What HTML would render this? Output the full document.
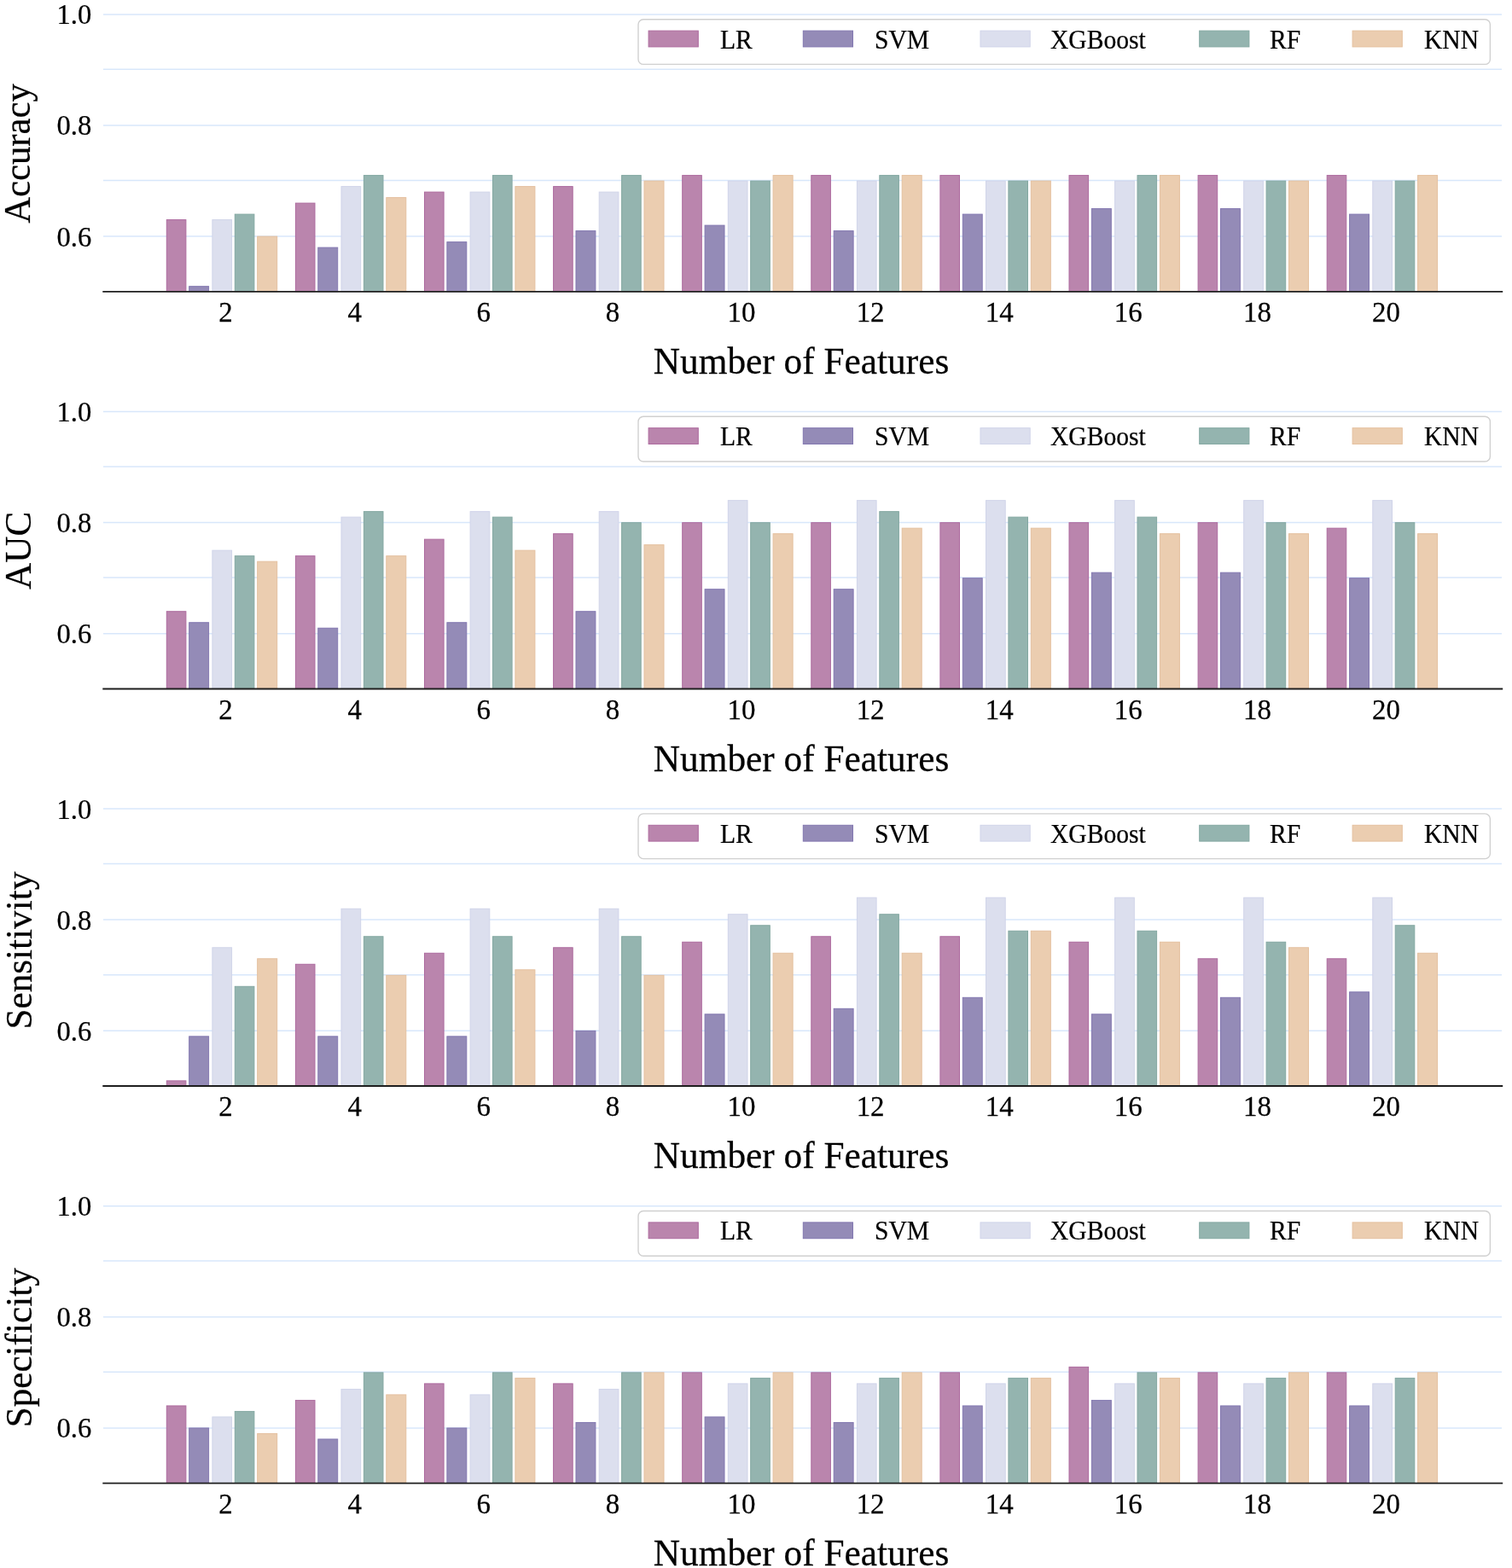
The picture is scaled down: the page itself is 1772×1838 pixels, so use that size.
<!DOCTYPE html><html><head><meta charset="utf-8"><title>Feature selection performance</title><style>html,body{margin:0;padding:0;background:#fff;}svg{display:block;}text{font-family:"Liberation Serif","Times New Roman",serif;fill:#000;stroke:#000;stroke-width:0.25px;}</style></head><body>
<svg width="1772" height="1838" viewBox="0 0 1772 1838">
<rect width="1772" height="1838" fill="#fff"/>
<g>
<line x1="121" y1="277.1" x2="1760" y2="277.1" stroke="#d8e7fb" stroke-width="1.5"/>
<line x1="121" y1="211.5" x2="1760" y2="211.5" stroke="#d8e7fb" stroke-width="1.5"/>
<line x1="121" y1="146.9" x2="1760" y2="146.9" stroke="#d8e7fb" stroke-width="1.5"/>
<line x1="121" y1="81.3" x2="1760" y2="81.3" stroke="#d8e7fb" stroke-width="1.5"/>
<line x1="121" y1="16.9" x2="1760" y2="16.9" stroke="#d8e7fb" stroke-width="1.5"/>
<rect x="195.3" y="257.63" width="22.6" height="84.06" fill="#ba85ad" stroke="#ad6b9f" stroke-width="1"/>
<rect x="221.7" y="335.69" width="22.9" height="6" fill="#948bb7" stroke="#8277b0" stroke-width="1"/>
<rect x="248.9" y="257.63" width="22.7" height="84.06" fill="#dcdfee" stroke="#d0d4e9" stroke-width="1"/>
<rect x="275.3" y="251.13" width="22.6" height="90.57" fill="#94b4af" stroke="#84a8a2" stroke-width="1"/>
<rect x="301.7" y="277.15" width="23" height="64.55" fill="#ebcdb0" stroke="#e4c09f" stroke-width="1"/>
<rect x="346.4" y="238.12" width="22.6" height="103.58" fill="#ba85ad" stroke="#ad6b9f" stroke-width="1"/>
<rect x="372.8" y="290.16" width="22.9" height="51.54" fill="#948bb7" stroke="#8277b0" stroke-width="1"/>
<rect x="400" y="218.61" width="22.7" height="123.09" fill="#dcdfee" stroke="#d0d4e9" stroke-width="1"/>
<rect x="426.4" y="205.59" width="22.6" height="136.1" fill="#94b4af" stroke="#84a8a2" stroke-width="1"/>
<rect x="452.8" y="231.61" width="23" height="110.09" fill="#ebcdb0" stroke="#e4c09f" stroke-width="1"/>
<rect x="497.5" y="225.11" width="22.6" height="116.59" fill="#ba85ad" stroke="#ad6b9f" stroke-width="1"/>
<rect x="523.9" y="283.66" width="22.9" height="58.04" fill="#948bb7" stroke="#8277b0" stroke-width="1"/>
<rect x="551.1" y="225.11" width="22.7" height="116.59" fill="#dcdfee" stroke="#d0d4e9" stroke-width="1"/>
<rect x="577.5" y="205.59" width="22.6" height="136.1" fill="#94b4af" stroke="#84a8a2" stroke-width="1"/>
<rect x="603.9" y="218.61" width="23" height="123.09" fill="#ebcdb0" stroke="#e4c09f" stroke-width="1"/>
<rect x="648.6" y="218.61" width="22.6" height="123.09" fill="#ba85ad" stroke="#ad6b9f" stroke-width="1"/>
<rect x="675" y="270.64" width="22.9" height="71.06" fill="#948bb7" stroke="#8277b0" stroke-width="1"/>
<rect x="702.2" y="225.11" width="22.7" height="116.59" fill="#dcdfee" stroke="#d0d4e9" stroke-width="1"/>
<rect x="728.6" y="205.59" width="22.6" height="136.1" fill="#94b4af" stroke="#84a8a2" stroke-width="1"/>
<rect x="755" y="212.1" width="23" height="129.6" fill="#ebcdb0" stroke="#e4c09f" stroke-width="1"/>
<rect x="799.7" y="205.59" width="22.6" height="136.1" fill="#ba85ad" stroke="#ad6b9f" stroke-width="1"/>
<rect x="826.1" y="264.14" width="22.9" height="77.56" fill="#948bb7" stroke="#8277b0" stroke-width="1"/>
<rect x="853.3" y="212.1" width="22.7" height="129.6" fill="#dcdfee" stroke="#d0d4e9" stroke-width="1"/>
<rect x="879.7" y="212.1" width="22.6" height="129.6" fill="#94b4af" stroke="#84a8a2" stroke-width="1"/>
<rect x="906.1" y="205.59" width="23" height="136.1" fill="#ebcdb0" stroke="#e4c09f" stroke-width="1"/>
<rect x="950.8" y="205.59" width="22.6" height="136.1" fill="#ba85ad" stroke="#ad6b9f" stroke-width="1"/>
<rect x="977.2" y="270.64" width="22.9" height="71.06" fill="#948bb7" stroke="#8277b0" stroke-width="1"/>
<rect x="1004.4" y="212.1" width="22.7" height="129.6" fill="#dcdfee" stroke="#d0d4e9" stroke-width="1"/>
<rect x="1030.8" y="205.59" width="22.6" height="136.1" fill="#94b4af" stroke="#84a8a2" stroke-width="1"/>
<rect x="1057.2" y="205.59" width="23" height="136.1" fill="#ebcdb0" stroke="#e4c09f" stroke-width="1"/>
<rect x="1101.9" y="205.59" width="22.6" height="136.1" fill="#ba85ad" stroke="#ad6b9f" stroke-width="1"/>
<rect x="1128.3" y="251.13" width="22.9" height="90.57" fill="#948bb7" stroke="#8277b0" stroke-width="1"/>
<rect x="1155.5" y="212.1" width="22.7" height="129.6" fill="#dcdfee" stroke="#d0d4e9" stroke-width="1"/>
<rect x="1181.9" y="212.1" width="22.6" height="129.6" fill="#94b4af" stroke="#84a8a2" stroke-width="1"/>
<rect x="1208.3" y="212.1" width="23" height="129.6" fill="#ebcdb0" stroke="#e4c09f" stroke-width="1"/>
<rect x="1253" y="205.59" width="22.6" height="136.1" fill="#ba85ad" stroke="#ad6b9f" stroke-width="1"/>
<rect x="1279.4" y="244.62" width="22.9" height="97.08" fill="#948bb7" stroke="#8277b0" stroke-width="1"/>
<rect x="1306.6" y="212.1" width="22.7" height="129.6" fill="#dcdfee" stroke="#d0d4e9" stroke-width="1"/>
<rect x="1333" y="205.59" width="22.6" height="136.1" fill="#94b4af" stroke="#84a8a2" stroke-width="1"/>
<rect x="1359.4" y="205.59" width="23" height="136.1" fill="#ebcdb0" stroke="#e4c09f" stroke-width="1"/>
<rect x="1404.1" y="205.59" width="22.6" height="136.1" fill="#ba85ad" stroke="#ad6b9f" stroke-width="1"/>
<rect x="1430.5" y="244.62" width="22.9" height="97.08" fill="#948bb7" stroke="#8277b0" stroke-width="1"/>
<rect x="1457.7" y="212.1" width="22.7" height="129.6" fill="#dcdfee" stroke="#d0d4e9" stroke-width="1"/>
<rect x="1484.1" y="212.1" width="22.6" height="129.6" fill="#94b4af" stroke="#84a8a2" stroke-width="1"/>
<rect x="1510.5" y="212.1" width="23" height="129.6" fill="#ebcdb0" stroke="#e4c09f" stroke-width="1"/>
<rect x="1555.2" y="205.59" width="22.6" height="136.1" fill="#ba85ad" stroke="#ad6b9f" stroke-width="1"/>
<rect x="1581.6" y="251.13" width="22.9" height="90.57" fill="#948bb7" stroke="#8277b0" stroke-width="1"/>
<rect x="1608.8" y="212.1" width="22.7" height="129.6" fill="#dcdfee" stroke="#d0d4e9" stroke-width="1"/>
<rect x="1635.2" y="212.1" width="22.6" height="129.6" fill="#94b4af" stroke="#84a8a2" stroke-width="1"/>
<rect x="1661.6" y="205.59" width="23" height="136.1" fill="#ebcdb0" stroke="#e4c09f" stroke-width="1"/>
<line x1="120.3" y1="341.85" x2="1761.2" y2="341.85" stroke="#1e1e1e" stroke-width="1.9"/>
<rect x="748" y="22.7" width="998.4" height="52.7" rx="6" fill="#fff" fill-opacity="0.8" stroke="#d0d0d0" stroke-width="1.4"/>
<rect x="760.1" y="36.1" width="58.2" height="18.8" fill="#ba85ad" stroke="#ad6b9f" stroke-width="1"/>
<text transform="translate(844,56.5) scale(0.94,1)" font-size="31.5">LR</text>
<rect x="941.3" y="36.1" width="58.2" height="18.8" fill="#948bb7" stroke="#8277b0" stroke-width="1"/>
<text transform="translate(1025,56.5) scale(0.94,1)" font-size="31.5">SVM</text>
<rect x="1149" y="36.1" width="58.2" height="18.8" fill="#dcdfee" stroke="#d0d4e9" stroke-width="1"/>
<text transform="translate(1231,56.5) scale(0.94,1)" font-size="31.5">XGBoost</text>
<rect x="1405.7" y="36.1" width="58.2" height="18.8" fill="#94b4af" stroke="#84a8a2" stroke-width="1"/>
<text transform="translate(1488,56.5) scale(0.94,1)" font-size="31.5">RF</text>
<rect x="1585.1" y="36.1" width="58.2" height="18.8" fill="#ebcdb0" stroke="#e4c09f" stroke-width="1"/>
<text transform="translate(1669,56.5) scale(0.94,1)" font-size="31.5">KNN</text>
<text transform="translate(107.3,288.55) scale(0.94,1)" font-size="34.7" text-anchor="end">0.6</text>
<text transform="translate(107.3,158.45) scale(0.94,1)" font-size="34.7" text-anchor="end">0.8</text>
<text transform="translate(107.3,28.35) scale(0.94,1)" font-size="34.7" text-anchor="end">1.0</text>
<text transform="translate(264.6,377.2) scale(0.95,1)" font-size="34.7" text-anchor="middle">2</text>
<text transform="translate(415.7,377.2) scale(0.95,1)" font-size="34.7" text-anchor="middle">4</text>
<text transform="translate(566.8,377.2) scale(0.95,1)" font-size="34.7" text-anchor="middle">6</text>
<text transform="translate(717.9,377.2) scale(0.95,1)" font-size="34.7" text-anchor="middle">8</text>
<text transform="translate(869,377.2) scale(0.95,1)" font-size="34.7" text-anchor="middle">10</text>
<text transform="translate(1020.1,377.2) scale(0.95,1)" font-size="34.7" text-anchor="middle">12</text>
<text transform="translate(1171.2,377.2) scale(0.95,1)" font-size="34.7" text-anchor="middle">14</text>
<text transform="translate(1322.3,377.2) scale(0.95,1)" font-size="34.7" text-anchor="middle">16</text>
<text transform="translate(1473.4,377.2) scale(0.95,1)" font-size="34.7" text-anchor="middle">18</text>
<text transform="translate(1624.5,377.2) scale(0.95,1)" font-size="34.7" text-anchor="middle">20</text>
<text transform="translate(939,438) scale(0.985,1)" font-size="44" text-anchor="middle">Number of Features</text>
<text transform="translate(34.7,180) rotate(-90) scale(0.95,1)" font-size="45" text-anchor="middle">Accuracy</text>
</g>
<g>
<line x1="121" y1="742.7" x2="1760" y2="742.7" stroke="#d8e7fb" stroke-width="1.5"/>
<line x1="121" y1="677.1" x2="1760" y2="677.1" stroke="#d8e7fb" stroke-width="1.5"/>
<line x1="121" y1="612.5" x2="1760" y2="612.5" stroke="#d8e7fb" stroke-width="1.5"/>
<line x1="121" y1="546.9" x2="1760" y2="546.9" stroke="#d8e7fb" stroke-width="1.5"/>
<line x1="121" y1="482.5" x2="1760" y2="482.5" stroke="#d8e7fb" stroke-width="1.5"/>
<rect x="195.3" y="716.73" width="22.6" height="90.57" fill="#ba85ad" stroke="#ad6b9f" stroke-width="1"/>
<rect x="221.7" y="729.74" width="22.9" height="77.56" fill="#948bb7" stroke="#8277b0" stroke-width="1"/>
<rect x="248.9" y="645.17" width="22.7" height="162.12" fill="#dcdfee" stroke="#d0d4e9" stroke-width="1"/>
<rect x="275.3" y="651.68" width="22.6" height="155.62" fill="#94b4af" stroke="#84a8a2" stroke-width="1"/>
<rect x="301.7" y="658.19" width="23" height="149.11" fill="#ebcdb0" stroke="#e4c09f" stroke-width="1"/>
<rect x="346.4" y="651.68" width="22.6" height="155.62" fill="#ba85ad" stroke="#ad6b9f" stroke-width="1"/>
<rect x="372.8" y="736.25" width="22.9" height="71.05" fill="#948bb7" stroke="#8277b0" stroke-width="1"/>
<rect x="400" y="606.14" width="22.7" height="201.15" fill="#dcdfee" stroke="#d0d4e9" stroke-width="1"/>
<rect x="426.4" y="599.64" width="22.6" height="207.66" fill="#94b4af" stroke="#84a8a2" stroke-width="1"/>
<rect x="452.8" y="651.68" width="23" height="155.62" fill="#ebcdb0" stroke="#e4c09f" stroke-width="1"/>
<rect x="497.5" y="632.16" width="22.6" height="175.13" fill="#ba85ad" stroke="#ad6b9f" stroke-width="1"/>
<rect x="523.9" y="729.74" width="22.9" height="77.56" fill="#948bb7" stroke="#8277b0" stroke-width="1"/>
<rect x="551.1" y="599.64" width="22.7" height="207.66" fill="#dcdfee" stroke="#d0d4e9" stroke-width="1"/>
<rect x="577.5" y="606.14" width="22.6" height="201.15" fill="#94b4af" stroke="#84a8a2" stroke-width="1"/>
<rect x="603.9" y="645.17" width="23" height="162.12" fill="#ebcdb0" stroke="#e4c09f" stroke-width="1"/>
<rect x="648.6" y="625.66" width="22.6" height="181.64" fill="#ba85ad" stroke="#ad6b9f" stroke-width="1"/>
<rect x="675" y="716.73" width="22.9" height="90.57" fill="#948bb7" stroke="#8277b0" stroke-width="1"/>
<rect x="702.2" y="599.64" width="22.7" height="207.66" fill="#dcdfee" stroke="#d0d4e9" stroke-width="1"/>
<rect x="728.6" y="612.65" width="22.6" height="194.65" fill="#94b4af" stroke="#84a8a2" stroke-width="1"/>
<rect x="755" y="638.67" width="23" height="168.63" fill="#ebcdb0" stroke="#e4c09f" stroke-width="1"/>
<rect x="799.7" y="612.65" width="22.6" height="194.65" fill="#ba85ad" stroke="#ad6b9f" stroke-width="1"/>
<rect x="826.1" y="690.71" width="22.9" height="116.59" fill="#948bb7" stroke="#8277b0" stroke-width="1"/>
<rect x="853.3" y="586.63" width="22.7" height="220.67" fill="#dcdfee" stroke="#d0d4e9" stroke-width="1"/>
<rect x="879.7" y="612.65" width="22.6" height="194.65" fill="#94b4af" stroke="#84a8a2" stroke-width="1"/>
<rect x="906.1" y="625.66" width="23" height="181.64" fill="#ebcdb0" stroke="#e4c09f" stroke-width="1"/>
<rect x="950.8" y="612.65" width="22.6" height="194.65" fill="#ba85ad" stroke="#ad6b9f" stroke-width="1"/>
<rect x="977.2" y="690.71" width="22.9" height="116.59" fill="#948bb7" stroke="#8277b0" stroke-width="1"/>
<rect x="1004.4" y="586.63" width="22.7" height="220.67" fill="#dcdfee" stroke="#d0d4e9" stroke-width="1"/>
<rect x="1030.8" y="599.64" width="22.6" height="207.66" fill="#94b4af" stroke="#84a8a2" stroke-width="1"/>
<rect x="1057.2" y="619.15" width="23" height="188.14" fill="#ebcdb0" stroke="#e4c09f" stroke-width="1"/>
<rect x="1101.9" y="612.65" width="22.6" height="194.65" fill="#ba85ad" stroke="#ad6b9f" stroke-width="1"/>
<rect x="1128.3" y="677.7" width="22.9" height="129.6" fill="#948bb7" stroke="#8277b0" stroke-width="1"/>
<rect x="1155.5" y="586.63" width="22.7" height="220.67" fill="#dcdfee" stroke="#d0d4e9" stroke-width="1"/>
<rect x="1181.9" y="606.14" width="22.6" height="201.15" fill="#94b4af" stroke="#84a8a2" stroke-width="1"/>
<rect x="1208.3" y="619.15" width="23" height="188.14" fill="#ebcdb0" stroke="#e4c09f" stroke-width="1"/>
<rect x="1253" y="612.65" width="22.6" height="194.65" fill="#ba85ad" stroke="#ad6b9f" stroke-width="1"/>
<rect x="1279.4" y="671.2" width="22.9" height="136.1" fill="#948bb7" stroke="#8277b0" stroke-width="1"/>
<rect x="1306.6" y="586.63" width="22.7" height="220.67" fill="#dcdfee" stroke="#d0d4e9" stroke-width="1"/>
<rect x="1333" y="606.14" width="22.6" height="201.15" fill="#94b4af" stroke="#84a8a2" stroke-width="1"/>
<rect x="1359.4" y="625.66" width="23" height="181.64" fill="#ebcdb0" stroke="#e4c09f" stroke-width="1"/>
<rect x="1404.1" y="612.65" width="22.6" height="194.65" fill="#ba85ad" stroke="#ad6b9f" stroke-width="1"/>
<rect x="1430.5" y="671.2" width="22.9" height="136.1" fill="#948bb7" stroke="#8277b0" stroke-width="1"/>
<rect x="1457.7" y="586.63" width="22.7" height="220.67" fill="#dcdfee" stroke="#d0d4e9" stroke-width="1"/>
<rect x="1484.1" y="612.65" width="22.6" height="194.65" fill="#94b4af" stroke="#84a8a2" stroke-width="1"/>
<rect x="1510.5" y="625.66" width="23" height="181.64" fill="#ebcdb0" stroke="#e4c09f" stroke-width="1"/>
<rect x="1555.2" y="619.15" width="22.6" height="188.14" fill="#ba85ad" stroke="#ad6b9f" stroke-width="1"/>
<rect x="1581.6" y="677.7" width="22.9" height="129.6" fill="#948bb7" stroke="#8277b0" stroke-width="1"/>
<rect x="1608.8" y="586.63" width="22.7" height="220.67" fill="#dcdfee" stroke="#d0d4e9" stroke-width="1"/>
<rect x="1635.2" y="612.65" width="22.6" height="194.65" fill="#94b4af" stroke="#84a8a2" stroke-width="1"/>
<rect x="1661.6" y="625.66" width="23" height="181.64" fill="#ebcdb0" stroke="#e4c09f" stroke-width="1"/>
<line x1="120.3" y1="807.45" x2="1761.2" y2="807.45" stroke="#1e1e1e" stroke-width="1.9"/>
<rect x="748" y="488.3" width="998.4" height="52.7" rx="6" fill="#fff" fill-opacity="0.8" stroke="#d0d0d0" stroke-width="1.4"/>
<rect x="760.1" y="501.7" width="58.2" height="18.8" fill="#ba85ad" stroke="#ad6b9f" stroke-width="1"/>
<text transform="translate(844,522.1) scale(0.94,1)" font-size="31.5">LR</text>
<rect x="941.3" y="501.7" width="58.2" height="18.8" fill="#948bb7" stroke="#8277b0" stroke-width="1"/>
<text transform="translate(1025,522.1) scale(0.94,1)" font-size="31.5">SVM</text>
<rect x="1149" y="501.7" width="58.2" height="18.8" fill="#dcdfee" stroke="#d0d4e9" stroke-width="1"/>
<text transform="translate(1231,522.1) scale(0.94,1)" font-size="31.5">XGBoost</text>
<rect x="1405.7" y="501.7" width="58.2" height="18.8" fill="#94b4af" stroke="#84a8a2" stroke-width="1"/>
<text transform="translate(1488,522.1) scale(0.94,1)" font-size="31.5">RF</text>
<rect x="1585.1" y="501.7" width="58.2" height="18.8" fill="#ebcdb0" stroke="#e4c09f" stroke-width="1"/>
<text transform="translate(1669,522.1) scale(0.94,1)" font-size="31.5">KNN</text>
<text transform="translate(107.3,754.15) scale(0.94,1)" font-size="34.7" text-anchor="end">0.6</text>
<text transform="translate(107.3,624.05) scale(0.94,1)" font-size="34.7" text-anchor="end">0.8</text>
<text transform="translate(107.3,493.95) scale(0.94,1)" font-size="34.7" text-anchor="end">1.0</text>
<text transform="translate(264.6,842.8) scale(0.95,1)" font-size="34.7" text-anchor="middle">2</text>
<text transform="translate(415.7,842.8) scale(0.95,1)" font-size="34.7" text-anchor="middle">4</text>
<text transform="translate(566.8,842.8) scale(0.95,1)" font-size="34.7" text-anchor="middle">6</text>
<text transform="translate(717.9,842.8) scale(0.95,1)" font-size="34.7" text-anchor="middle">8</text>
<text transform="translate(869,842.8) scale(0.95,1)" font-size="34.7" text-anchor="middle">10</text>
<text transform="translate(1020.1,842.8) scale(0.95,1)" font-size="34.7" text-anchor="middle">12</text>
<text transform="translate(1171.2,842.8) scale(0.95,1)" font-size="34.7" text-anchor="middle">14</text>
<text transform="translate(1322.3,842.8) scale(0.95,1)" font-size="34.7" text-anchor="middle">16</text>
<text transform="translate(1473.4,842.8) scale(0.95,1)" font-size="34.7" text-anchor="middle">18</text>
<text transform="translate(1624.5,842.8) scale(0.95,1)" font-size="34.7" text-anchor="middle">20</text>
<text transform="translate(939,903.6) scale(0.985,1)" font-size="44" text-anchor="middle">Number of Features</text>
<text transform="translate(35.7,645.3) rotate(-90) scale(0.96,1)" font-size="45" text-anchor="middle">AUC</text>
</g>
<g>
<line x1="121" y1="1208.3" x2="1760" y2="1208.3" stroke="#d8e7fb" stroke-width="1.5"/>
<line x1="121" y1="1142.7" x2="1760" y2="1142.7" stroke="#d8e7fb" stroke-width="1.5"/>
<line x1="121" y1="1078.1" x2="1760" y2="1078.1" stroke="#d8e7fb" stroke-width="1.5"/>
<line x1="121" y1="1012.5" x2="1760" y2="1012.5" stroke="#d8e7fb" stroke-width="1.5"/>
<line x1="121" y1="948.1" x2="1760" y2="948.1" stroke="#d8e7fb" stroke-width="1.5"/>
<rect x="195.3" y="1266.89" width="22.6" height="6.01" fill="#ba85ad" stroke="#ad6b9f" stroke-width="1"/>
<rect x="221.7" y="1214.86" width="22.9" height="58.05" fill="#948bb7" stroke="#8277b0" stroke-width="1"/>
<rect x="248.9" y="1110.78" width="22.7" height="162.12" fill="#dcdfee" stroke="#d0d4e9" stroke-width="1"/>
<rect x="275.3" y="1156.31" width="22.6" height="116.59" fill="#94b4af" stroke="#84a8a2" stroke-width="1"/>
<rect x="301.7" y="1123.79" width="23" height="149.12" fill="#ebcdb0" stroke="#e4c09f" stroke-width="1"/>
<rect x="346.4" y="1130.29" width="22.6" height="142.61" fill="#ba85ad" stroke="#ad6b9f" stroke-width="1"/>
<rect x="372.8" y="1214.86" width="22.9" height="58.05" fill="#948bb7" stroke="#8277b0" stroke-width="1"/>
<rect x="400" y="1065.24" width="22.7" height="207.66" fill="#dcdfee" stroke="#d0d4e9" stroke-width="1"/>
<rect x="426.4" y="1097.77" width="22.6" height="175.13" fill="#94b4af" stroke="#84a8a2" stroke-width="1"/>
<rect x="452.8" y="1143.3" width="23" height="129.6" fill="#ebcdb0" stroke="#e4c09f" stroke-width="1"/>
<rect x="497.5" y="1117.28" width="22.6" height="155.62" fill="#ba85ad" stroke="#ad6b9f" stroke-width="1"/>
<rect x="523.9" y="1214.86" width="22.9" height="58.05" fill="#948bb7" stroke="#8277b0" stroke-width="1"/>
<rect x="551.1" y="1065.24" width="22.7" height="207.66" fill="#dcdfee" stroke="#d0d4e9" stroke-width="1"/>
<rect x="577.5" y="1097.77" width="22.6" height="175.13" fill="#94b4af" stroke="#84a8a2" stroke-width="1"/>
<rect x="603.9" y="1136.8" width="23" height="136.11" fill="#ebcdb0" stroke="#e4c09f" stroke-width="1"/>
<rect x="648.6" y="1110.78" width="22.6" height="162.12" fill="#ba85ad" stroke="#ad6b9f" stroke-width="1"/>
<rect x="675" y="1208.35" width="22.9" height="64.55" fill="#948bb7" stroke="#8277b0" stroke-width="1"/>
<rect x="702.2" y="1065.24" width="22.7" height="207.66" fill="#dcdfee" stroke="#d0d4e9" stroke-width="1"/>
<rect x="728.6" y="1097.77" width="22.6" height="175.13" fill="#94b4af" stroke="#84a8a2" stroke-width="1"/>
<rect x="755" y="1143.3" width="23" height="129.6" fill="#ebcdb0" stroke="#e4c09f" stroke-width="1"/>
<rect x="799.7" y="1104.27" width="22.6" height="168.63" fill="#ba85ad" stroke="#ad6b9f" stroke-width="1"/>
<rect x="826.1" y="1188.84" width="22.9" height="84.07" fill="#948bb7" stroke="#8277b0" stroke-width="1"/>
<rect x="853.3" y="1071.74" width="22.7" height="201.16" fill="#dcdfee" stroke="#d0d4e9" stroke-width="1"/>
<rect x="879.7" y="1084.76" width="22.6" height="188.14" fill="#94b4af" stroke="#84a8a2" stroke-width="1"/>
<rect x="906.1" y="1117.28" width="23" height="155.62" fill="#ebcdb0" stroke="#e4c09f" stroke-width="1"/>
<rect x="950.8" y="1097.77" width="22.6" height="175.13" fill="#ba85ad" stroke="#ad6b9f" stroke-width="1"/>
<rect x="977.2" y="1182.33" width="22.9" height="90.57" fill="#948bb7" stroke="#8277b0" stroke-width="1"/>
<rect x="1004.4" y="1052.23" width="22.7" height="220.67" fill="#dcdfee" stroke="#d0d4e9" stroke-width="1"/>
<rect x="1030.8" y="1071.74" width="22.6" height="201.16" fill="#94b4af" stroke="#84a8a2" stroke-width="1"/>
<rect x="1057.2" y="1117.28" width="23" height="155.62" fill="#ebcdb0" stroke="#e4c09f" stroke-width="1"/>
<rect x="1101.9" y="1097.77" width="22.6" height="175.13" fill="#ba85ad" stroke="#ad6b9f" stroke-width="1"/>
<rect x="1128.3" y="1169.32" width="22.9" height="103.58" fill="#948bb7" stroke="#8277b0" stroke-width="1"/>
<rect x="1155.5" y="1052.23" width="22.7" height="220.67" fill="#dcdfee" stroke="#d0d4e9" stroke-width="1"/>
<rect x="1181.9" y="1091.26" width="22.6" height="181.64" fill="#94b4af" stroke="#84a8a2" stroke-width="1"/>
<rect x="1208.3" y="1091.26" width="23" height="181.64" fill="#ebcdb0" stroke="#e4c09f" stroke-width="1"/>
<rect x="1253" y="1104.27" width="22.6" height="168.63" fill="#ba85ad" stroke="#ad6b9f" stroke-width="1"/>
<rect x="1279.4" y="1188.84" width="22.9" height="84.07" fill="#948bb7" stroke="#8277b0" stroke-width="1"/>
<rect x="1306.6" y="1052.23" width="22.7" height="220.67" fill="#dcdfee" stroke="#d0d4e9" stroke-width="1"/>
<rect x="1333" y="1091.26" width="22.6" height="181.64" fill="#94b4af" stroke="#84a8a2" stroke-width="1"/>
<rect x="1359.4" y="1104.27" width="23" height="168.63" fill="#ebcdb0" stroke="#e4c09f" stroke-width="1"/>
<rect x="1404.1" y="1123.79" width="22.6" height="149.12" fill="#ba85ad" stroke="#ad6b9f" stroke-width="1"/>
<rect x="1430.5" y="1169.32" width="22.9" height="103.58" fill="#948bb7" stroke="#8277b0" stroke-width="1"/>
<rect x="1457.7" y="1052.23" width="22.7" height="220.67" fill="#dcdfee" stroke="#d0d4e9" stroke-width="1"/>
<rect x="1484.1" y="1104.27" width="22.6" height="168.63" fill="#94b4af" stroke="#84a8a2" stroke-width="1"/>
<rect x="1510.5" y="1110.78" width="23" height="162.12" fill="#ebcdb0" stroke="#e4c09f" stroke-width="1"/>
<rect x="1555.2" y="1123.79" width="22.6" height="149.12" fill="#ba85ad" stroke="#ad6b9f" stroke-width="1"/>
<rect x="1581.6" y="1162.82" width="22.9" height="110.09" fill="#948bb7" stroke="#8277b0" stroke-width="1"/>
<rect x="1608.8" y="1052.23" width="22.7" height="220.67" fill="#dcdfee" stroke="#d0d4e9" stroke-width="1"/>
<rect x="1635.2" y="1084.76" width="22.6" height="188.14" fill="#94b4af" stroke="#84a8a2" stroke-width="1"/>
<rect x="1661.6" y="1117.28" width="23" height="155.62" fill="#ebcdb0" stroke="#e4c09f" stroke-width="1"/>
<line x1="120.3" y1="1273.05" x2="1761.2" y2="1273.05" stroke="#1e1e1e" stroke-width="1.9"/>
<rect x="748" y="953.9" width="998.4" height="52.7" rx="6" fill="#fff" fill-opacity="0.8" stroke="#d0d0d0" stroke-width="1.4"/>
<rect x="760.1" y="967.3" width="58.2" height="18.8" fill="#ba85ad" stroke="#ad6b9f" stroke-width="1"/>
<text transform="translate(844,987.7) scale(0.94,1)" font-size="31.5">LR</text>
<rect x="941.3" y="967.3" width="58.2" height="18.8" fill="#948bb7" stroke="#8277b0" stroke-width="1"/>
<text transform="translate(1025,987.7) scale(0.94,1)" font-size="31.5">SVM</text>
<rect x="1149" y="967.3" width="58.2" height="18.8" fill="#dcdfee" stroke="#d0d4e9" stroke-width="1"/>
<text transform="translate(1231,987.7) scale(0.94,1)" font-size="31.5">XGBoost</text>
<rect x="1405.7" y="967.3" width="58.2" height="18.8" fill="#94b4af" stroke="#84a8a2" stroke-width="1"/>
<text transform="translate(1488,987.7) scale(0.94,1)" font-size="31.5">RF</text>
<rect x="1585.1" y="967.3" width="58.2" height="18.8" fill="#ebcdb0" stroke="#e4c09f" stroke-width="1"/>
<text transform="translate(1669,987.7) scale(0.94,1)" font-size="31.5">KNN</text>
<text transform="translate(107.3,1219.75) scale(0.94,1)" font-size="34.7" text-anchor="end">0.6</text>
<text transform="translate(107.3,1089.65) scale(0.94,1)" font-size="34.7" text-anchor="end">0.8</text>
<text transform="translate(107.3,959.55) scale(0.94,1)" font-size="34.7" text-anchor="end">1.0</text>
<text transform="translate(264.6,1308.4) scale(0.95,1)" font-size="34.7" text-anchor="middle">2</text>
<text transform="translate(415.7,1308.4) scale(0.95,1)" font-size="34.7" text-anchor="middle">4</text>
<text transform="translate(566.8,1308.4) scale(0.95,1)" font-size="34.7" text-anchor="middle">6</text>
<text transform="translate(717.9,1308.4) scale(0.95,1)" font-size="34.7" text-anchor="middle">8</text>
<text transform="translate(869,1308.4) scale(0.95,1)" font-size="34.7" text-anchor="middle">10</text>
<text transform="translate(1020.1,1308.4) scale(0.95,1)" font-size="34.7" text-anchor="middle">12</text>
<text transform="translate(1171.2,1308.4) scale(0.95,1)" font-size="34.7" text-anchor="middle">14</text>
<text transform="translate(1322.3,1308.4) scale(0.95,1)" font-size="34.7" text-anchor="middle">16</text>
<text transform="translate(1473.4,1308.4) scale(0.95,1)" font-size="34.7" text-anchor="middle">18</text>
<text transform="translate(1624.5,1308.4) scale(0.95,1)" font-size="34.7" text-anchor="middle">20</text>
<text transform="translate(939,1369.2) scale(0.985,1)" font-size="44" text-anchor="middle">Number of Features</text>
<text transform="translate(37.3,1114.1) rotate(-90) scale(0.96,1)" font-size="45" text-anchor="middle">Sensitivity</text>
</g>
<g>
<line x1="121" y1="1673.9" x2="1760" y2="1673.9" stroke="#d8e7fb" stroke-width="1.5"/>
<line x1="121" y1="1608.3" x2="1760" y2="1608.3" stroke="#d8e7fb" stroke-width="1.5"/>
<line x1="121" y1="1543.7" x2="1760" y2="1543.7" stroke="#d8e7fb" stroke-width="1.5"/>
<line x1="121" y1="1478.1" x2="1760" y2="1478.1" stroke="#d8e7fb" stroke-width="1.5"/>
<line x1="121" y1="1413.7" x2="1760" y2="1413.7" stroke="#d8e7fb" stroke-width="1.5"/>
<rect x="195.3" y="1647.93" width="22.6" height="90.57" fill="#ba85ad" stroke="#ad6b9f" stroke-width="1"/>
<rect x="221.7" y="1673.95" width="22.9" height="64.55" fill="#948bb7" stroke="#8277b0" stroke-width="1"/>
<rect x="248.9" y="1660.94" width="22.7" height="77.56" fill="#dcdfee" stroke="#d0d4e9" stroke-width="1"/>
<rect x="275.3" y="1654.44" width="22.6" height="84.07" fill="#94b4af" stroke="#84a8a2" stroke-width="1"/>
<rect x="301.7" y="1680.46" width="23" height="58.05" fill="#ebcdb0" stroke="#e4c09f" stroke-width="1"/>
<rect x="346.4" y="1641.43" width="22.6" height="97.08" fill="#ba85ad" stroke="#ad6b9f" stroke-width="1"/>
<rect x="372.8" y="1686.96" width="22.9" height="51.54" fill="#948bb7" stroke="#8277b0" stroke-width="1"/>
<rect x="400" y="1628.42" width="22.7" height="110.09" fill="#dcdfee" stroke="#d0d4e9" stroke-width="1"/>
<rect x="426.4" y="1608.9" width="22.6" height="129.6" fill="#94b4af" stroke="#84a8a2" stroke-width="1"/>
<rect x="452.8" y="1634.92" width="23" height="103.58" fill="#ebcdb0" stroke="#e4c09f" stroke-width="1"/>
<rect x="497.5" y="1621.91" width="22.6" height="116.59" fill="#ba85ad" stroke="#ad6b9f" stroke-width="1"/>
<rect x="523.9" y="1673.95" width="22.9" height="64.55" fill="#948bb7" stroke="#8277b0" stroke-width="1"/>
<rect x="551.1" y="1634.92" width="22.7" height="103.58" fill="#dcdfee" stroke="#d0d4e9" stroke-width="1"/>
<rect x="577.5" y="1608.9" width="22.6" height="129.6" fill="#94b4af" stroke="#84a8a2" stroke-width="1"/>
<rect x="603.9" y="1615.41" width="23" height="123.1" fill="#ebcdb0" stroke="#e4c09f" stroke-width="1"/>
<rect x="648.6" y="1621.91" width="22.6" height="116.59" fill="#ba85ad" stroke="#ad6b9f" stroke-width="1"/>
<rect x="675" y="1667.45" width="22.9" height="71.06" fill="#948bb7" stroke="#8277b0" stroke-width="1"/>
<rect x="702.2" y="1628.42" width="22.7" height="110.09" fill="#dcdfee" stroke="#d0d4e9" stroke-width="1"/>
<rect x="728.6" y="1608.9" width="22.6" height="129.6" fill="#94b4af" stroke="#84a8a2" stroke-width="1"/>
<rect x="755" y="1608.9" width="23" height="129.6" fill="#ebcdb0" stroke="#e4c09f" stroke-width="1"/>
<rect x="799.7" y="1608.9" width="22.6" height="129.6" fill="#ba85ad" stroke="#ad6b9f" stroke-width="1"/>
<rect x="826.1" y="1660.94" width="22.9" height="77.56" fill="#948bb7" stroke="#8277b0" stroke-width="1"/>
<rect x="853.3" y="1621.91" width="22.7" height="116.59" fill="#dcdfee" stroke="#d0d4e9" stroke-width="1"/>
<rect x="879.7" y="1615.41" width="22.6" height="123.1" fill="#94b4af" stroke="#84a8a2" stroke-width="1"/>
<rect x="906.1" y="1608.9" width="23" height="129.6" fill="#ebcdb0" stroke="#e4c09f" stroke-width="1"/>
<rect x="950.8" y="1608.9" width="22.6" height="129.6" fill="#ba85ad" stroke="#ad6b9f" stroke-width="1"/>
<rect x="977.2" y="1667.45" width="22.9" height="71.06" fill="#948bb7" stroke="#8277b0" stroke-width="1"/>
<rect x="1004.4" y="1621.91" width="22.7" height="116.59" fill="#dcdfee" stroke="#d0d4e9" stroke-width="1"/>
<rect x="1030.8" y="1615.41" width="22.6" height="123.1" fill="#94b4af" stroke="#84a8a2" stroke-width="1"/>
<rect x="1057.2" y="1608.9" width="23" height="129.6" fill="#ebcdb0" stroke="#e4c09f" stroke-width="1"/>
<rect x="1101.9" y="1608.9" width="22.6" height="129.6" fill="#ba85ad" stroke="#ad6b9f" stroke-width="1"/>
<rect x="1128.3" y="1647.93" width="22.9" height="90.57" fill="#948bb7" stroke="#8277b0" stroke-width="1"/>
<rect x="1155.5" y="1621.91" width="22.7" height="116.59" fill="#dcdfee" stroke="#d0d4e9" stroke-width="1"/>
<rect x="1181.9" y="1615.41" width="22.6" height="123.1" fill="#94b4af" stroke="#84a8a2" stroke-width="1"/>
<rect x="1208.3" y="1615.41" width="23" height="123.1" fill="#ebcdb0" stroke="#e4c09f" stroke-width="1"/>
<rect x="1253" y="1602.4" width="22.6" height="136.11" fill="#ba85ad" stroke="#ad6b9f" stroke-width="1"/>
<rect x="1279.4" y="1641.43" width="22.9" height="97.08" fill="#948bb7" stroke="#8277b0" stroke-width="1"/>
<rect x="1306.6" y="1621.91" width="22.7" height="116.59" fill="#dcdfee" stroke="#d0d4e9" stroke-width="1"/>
<rect x="1333" y="1608.9" width="22.6" height="129.6" fill="#94b4af" stroke="#84a8a2" stroke-width="1"/>
<rect x="1359.4" y="1615.41" width="23" height="123.1" fill="#ebcdb0" stroke="#e4c09f" stroke-width="1"/>
<rect x="1404.1" y="1608.9" width="22.6" height="129.6" fill="#ba85ad" stroke="#ad6b9f" stroke-width="1"/>
<rect x="1430.5" y="1647.93" width="22.9" height="90.57" fill="#948bb7" stroke="#8277b0" stroke-width="1"/>
<rect x="1457.7" y="1621.91" width="22.7" height="116.59" fill="#dcdfee" stroke="#d0d4e9" stroke-width="1"/>
<rect x="1484.1" y="1615.41" width="22.6" height="123.1" fill="#94b4af" stroke="#84a8a2" stroke-width="1"/>
<rect x="1510.5" y="1608.9" width="23" height="129.6" fill="#ebcdb0" stroke="#e4c09f" stroke-width="1"/>
<rect x="1555.2" y="1608.9" width="22.6" height="129.6" fill="#ba85ad" stroke="#ad6b9f" stroke-width="1"/>
<rect x="1581.6" y="1647.93" width="22.9" height="90.57" fill="#948bb7" stroke="#8277b0" stroke-width="1"/>
<rect x="1608.8" y="1621.91" width="22.7" height="116.59" fill="#dcdfee" stroke="#d0d4e9" stroke-width="1"/>
<rect x="1635.2" y="1615.41" width="22.6" height="123.1" fill="#94b4af" stroke="#84a8a2" stroke-width="1"/>
<rect x="1661.6" y="1608.9" width="23" height="129.6" fill="#ebcdb0" stroke="#e4c09f" stroke-width="1"/>
<line x1="120.3" y1="1738.65" x2="1761.2" y2="1738.65" stroke="#1e1e1e" stroke-width="1.9"/>
<rect x="748" y="1419.5" width="998.4" height="52.7" rx="6" fill="#fff" fill-opacity="0.8" stroke="#d0d0d0" stroke-width="1.4"/>
<rect x="760.1" y="1432.9" width="58.2" height="18.8" fill="#ba85ad" stroke="#ad6b9f" stroke-width="1"/>
<text transform="translate(844,1453.3) scale(0.94,1)" font-size="31.5">LR</text>
<rect x="941.3" y="1432.9" width="58.2" height="18.8" fill="#948bb7" stroke="#8277b0" stroke-width="1"/>
<text transform="translate(1025,1453.3) scale(0.94,1)" font-size="31.5">SVM</text>
<rect x="1149" y="1432.9" width="58.2" height="18.8" fill="#dcdfee" stroke="#d0d4e9" stroke-width="1"/>
<text transform="translate(1231,1453.3) scale(0.94,1)" font-size="31.5">XGBoost</text>
<rect x="1405.7" y="1432.9" width="58.2" height="18.8" fill="#94b4af" stroke="#84a8a2" stroke-width="1"/>
<text transform="translate(1488,1453.3) scale(0.94,1)" font-size="31.5">RF</text>
<rect x="1585.1" y="1432.9" width="58.2" height="18.8" fill="#ebcdb0" stroke="#e4c09f" stroke-width="1"/>
<text transform="translate(1669,1453.3) scale(0.94,1)" font-size="31.5">KNN</text>
<text transform="translate(107.3,1685.35) scale(0.94,1)" font-size="34.7" text-anchor="end">0.6</text>
<text transform="translate(107.3,1555.25) scale(0.94,1)" font-size="34.7" text-anchor="end">0.8</text>
<text transform="translate(107.3,1425.15) scale(0.94,1)" font-size="34.7" text-anchor="end">1.0</text>
<text transform="translate(264.6,1774) scale(0.95,1)" font-size="34.7" text-anchor="middle">2</text>
<text transform="translate(415.7,1774) scale(0.95,1)" font-size="34.7" text-anchor="middle">4</text>
<text transform="translate(566.8,1774) scale(0.95,1)" font-size="34.7" text-anchor="middle">6</text>
<text transform="translate(717.9,1774) scale(0.95,1)" font-size="34.7" text-anchor="middle">8</text>
<text transform="translate(869,1774) scale(0.95,1)" font-size="34.7" text-anchor="middle">10</text>
<text transform="translate(1020.1,1774) scale(0.95,1)" font-size="34.7" text-anchor="middle">12</text>
<text transform="translate(1171.2,1774) scale(0.95,1)" font-size="34.7" text-anchor="middle">14</text>
<text transform="translate(1322.3,1774) scale(0.95,1)" font-size="34.7" text-anchor="middle">16</text>
<text transform="translate(1473.4,1774) scale(0.95,1)" font-size="34.7" text-anchor="middle">18</text>
<text transform="translate(1624.5,1774) scale(0.95,1)" font-size="34.7" text-anchor="middle">20</text>
<text transform="translate(939,1834.8) scale(0.985,1)" font-size="44" text-anchor="middle">Number of Features</text>
<text transform="translate(37.3,1579.8) rotate(-90) scale(0.96,1)" font-size="45" text-anchor="middle">Specificity</text>
</g>
</svg></body></html>
